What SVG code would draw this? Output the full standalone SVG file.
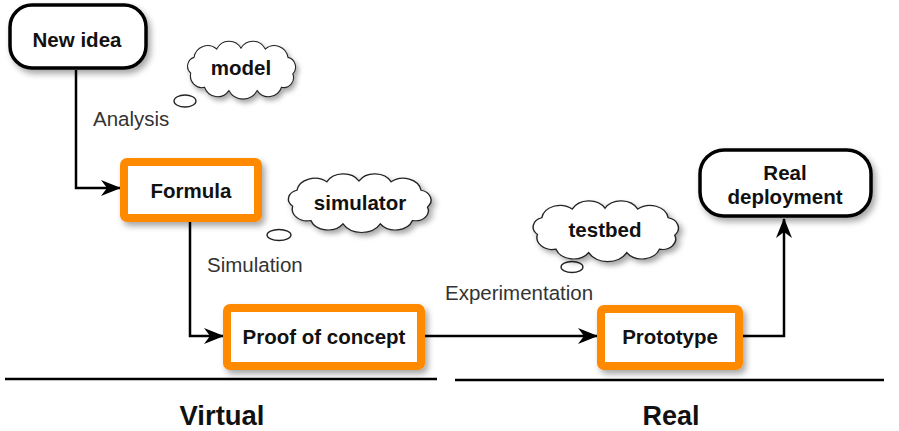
<svg xmlns="http://www.w3.org/2000/svg" width="899" height="431" viewBox="0 0 899 431">
<style>
  .node-text{font-family:"Liberation Sans",Arial,sans-serif;font-weight:bold;font-size:20.5px;fill:#111;text-anchor:middle}
  .lbl{font-family:"Liberation Sans",Arial,sans-serif;font-size:20.5px;fill:#333}
  .round{fill:#fff;stroke:#000;stroke-width:3.5}
  .orange{fill:#fff;stroke:#ff8a00;stroke-width:8}
  .cloud{fill:#fff;stroke:#222;stroke-width:1.3}
  .conn{fill:none;stroke:#000;stroke-width:2.5}
  .big{font-family:"Liberation Sans",Arial,sans-serif;font-weight:bold;font-size:27px;fill:#111;text-anchor:middle}
</style>
<defs>
  <filter id="sh" x="-20%" y="-20%" width="150%" height="160%">
    <feDropShadow dx="3" dy="4" stdDeviation="3" flood-color="#000" flood-opacity="0.35"/>
  </filter>
  <marker id="arr" markerWidth="20" markerHeight="16" refX="19" refY="8" orient="auto" markerUnits="userSpaceOnUse">
    <path d="M0,0 L20,8 L0,16 L6,8 z" fill="#000"/>
  </marker>
  <path id="cloudShape" d="M-62,5 A11,11 0 0 1 -58,-14 A17,17 0 0 1 -30,-24 A17,17 0 0 1 0,-25 A17,17 0 0 1 30,-24 A17,17 0 0 1 58,-14 A12,12 0 0 1 64,6 A12,12 0 0 1 50,22 A17,17 0 0 1 20,26 A20,20 0 0 1 -15,26 A17,17 0 0 1 -45,22 A14,14 0 0 1 -62,5 Z"/>
</defs>

<g id="connectors">
  <path class="conn" d="M76,70 V188 H120" marker-end="url(#arr)"/>
  <path class="conn" d="M190,222 V336 H223" marker-end="url(#arr)"/>
  <path class="conn" d="M425,336 H597" marker-end="url(#arr)"/>
  <path class="conn" d="M743,336 H784 V219" marker-end="url(#arr)"/>
  <text class="lbl" x="93" y="126">Analysis</text>
  <text class="lbl" x="207" y="272">Simulation</text>
  <text class="lbl" x="445" y="300">Experimentation</text>
</g>

<g id="new-idea">
  <rect class="round" x="10" y="5" width="136" height="63" rx="22" filter="url(#sh)"/>
  <text class="node-text" x="77" y="47">New idea</text>
</g>

<g id="model">
  <ellipse class="cloud" cx="185" cy="101" rx="11" ry="6"/>
  <g transform="translate(241,69) scale(0.81,0.83)" filter="url(#sh)">
    <use href="#cloudShape" class="cloud" vector-effect="non-scaling-stroke"/>
  </g>
  <text class="node-text" x="241" y="75">model</text>
</g>

<g id="formula">
  <rect class="orange" x="124" y="162" width="134" height="56" rx="3" filter="url(#sh)"/>
  <text class="node-text" x="191" y="198">Formula</text>
</g>

<g id="simulator">
  <ellipse class="cloud" cx="279" cy="235" rx="12" ry="5.5"/>
  <g transform="translate(359,202) scale(1.07,0.84)" filter="url(#sh)">
    <use href="#cloudShape" class="cloud" vector-effect="non-scaling-stroke"/>
  </g>
  <text class="node-text" x="360" y="210">simulator</text>
</g>

<g id="proof-of-concept">
  <rect class="orange" x="227" y="308" width="194" height="58" rx="3" filter="url(#sh)"/>
  <text class="node-text" x="324" y="344">Proof of concept</text>
</g>

<g id="testbed">
  <ellipse class="cloud" cx="572" cy="267" rx="11" ry="5.5"/>
  <g transform="translate(605,230) scale(1.09,0.87)" filter="url(#sh)">
    <use href="#cloudShape" class="cloud" vector-effect="non-scaling-stroke"/>
  </g>
  <text class="node-text" x="605" y="237">testbed</text>
</g>

<g id="prototype">
  <rect class="orange" x="601" y="309" width="138" height="57" rx="3" filter="url(#sh)"/>
  <text class="node-text" x="670" y="344">Prototype</text>
</g>

<g id="real-deployment">
  <rect class="round" x="700" y="150" width="171" height="66" rx="24" filter="url(#sh)"/>
  <text class="node-text" x="785" y="180">Real</text>
  <text class="node-text" x="785" y="204">deployment</text>
</g>

<g id="axis">
  <line x1="5" y1="379" x2="437" y2="379" stroke="#000" stroke-width="2.5"/>
  <line x1="455" y1="380" x2="884" y2="380" stroke="#000" stroke-width="2.5"/>
  <text class="big" x="222" y="425" textLength="85" lengthAdjust="spacingAndGlyphs">Virtual</text>
  <text class="big" x="671" y="425" textLength="57" lengthAdjust="spacingAndGlyphs">Real</text>
</g>
</svg>
